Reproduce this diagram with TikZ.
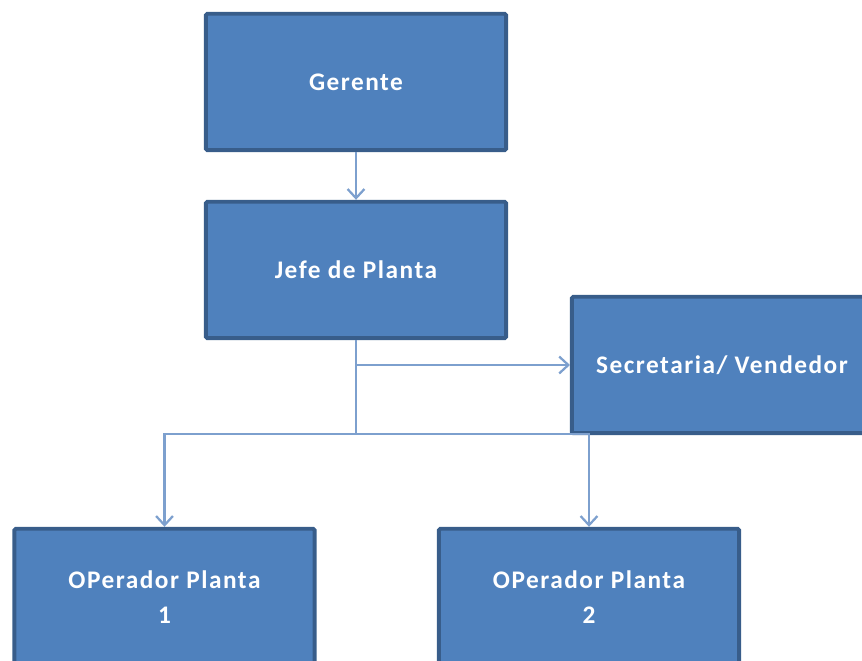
\documentclass[tikz,border=0pt]{standalone}
\usepackage{fontspec}
\setmainfont{Carlito}[LetterSpace=6]
\usetikzlibrary{arrows.meta}

\definecolor{boxfill}{RGB}{79,129,189}
\definecolor{boxline}{RGB}{56,93,138}
\definecolor{linkblue}{RGB}{125,160,206}

\begin{document}
\begin{tikzpicture}[
    x=0.025cm,
    y=-0.025cm,
    >={Straight Barb[length=6.5pt,width=12pt]},
    box/.style = {
      draw = boxline,
      fill = boxfill,
      line width = 2.8pt,
      rounded corners = 1pt,
      minimum width = 7.5cm,
      minimum height = 3.41cm,
      text = white,
      align = center,
      font = \fontsize{18}{24.5}\selectfont\bfseries
    },
    link/.style = {
      draw = linkblue,
      line width = 1.6pt
    }
  ]
  \useasboundingbox (0,0) rectangle (862,661);

  \node[box] (ger)  at (356,82)  {Gerente};
  \node[box] (jefe) at (356,270) {Jefe de Planta};
  \node[box] (sec)  at (722,365) {Secretaria/ Vendedor};
  \node[box] (op1)  at (164.5,597) {OPerador Planta\\1};
  \node[box] (op2)  at (589,597) {OPerador Planta\\2};

  \coordinate (tap)   at (356,365);
  \coordinate (split) at (356,434);

  \draw[link,->] (ger) -- (jefe);
  \draw[link] (jefe) -- (split);
  \draw[link,->] (tap) -- (sec);
  \draw[link,->] (split) -| (op1);
  \draw[link,->] (split) -| (op2);
\end{tikzpicture}
\end{document}
